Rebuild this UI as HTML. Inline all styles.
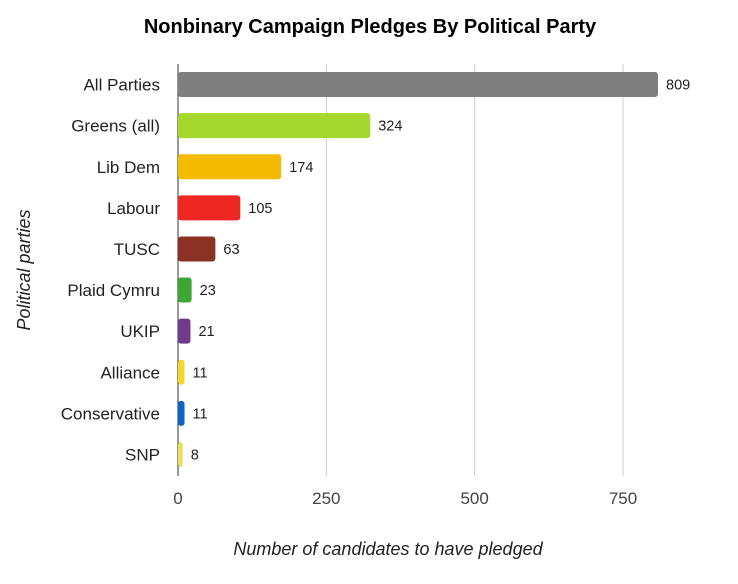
<!DOCTYPE html>
<html><head><meta charset="utf-8">
<style>
body{margin:0;background:#fff;font-family:"Liberation Sans",Arial,sans-serif;}
svg text{font-family:"Liberation Sans",Arial,sans-serif;}
</style></head>
<body>
<svg width="738" height="579" viewBox="0 0 738 579">
<text x="370" y="33" text-anchor="middle" font-size="20" font-weight="bold" fill="#000">Nonbinary Campaign Pledges By Political Party</text>
<g id="grid"></g>
<g id="bars"></g>
<g id="labels"></g>
<text x="388" y="555" text-anchor="middle" font-size="18" font-style="italic" fill="#222">Number of candidates to have pledged</text>
<text transform="translate(30,270) rotate(-90)" text-anchor="middle" font-size="18" font-style="italic" fill="#222">Political parties</text>
</svg>
<script>
const categories=["All Parties","Greens (all)","Lib Dem","Labour","TUSC","Plaid Cymru","UKIP","Alliance","Conservative","SNP"];
const values=[809,324,174,105,63,23,21,11,11,8];
const colors=["#7f7f7f","#a4d82c","#f4bb00","#ee2722","#8b3224","#3fa535","#6f3b8a","#f4d72a","#0c63c8","#ece05a"];
const ticks=[0,250,500,750];
const NS="http://www.w3.org/2000/svg";
const x0=178;
function xPos(v){return x0+v*(623-178)/750;}
const plotTop=64,rowH=41.1;
function yPos(i){return plotTop+rowH*(i+0.5);}
function mk(tag,attrs,parent){const e=document.createElementNS(NS,tag);for(const k in attrs)e.setAttribute(k,attrs[k]);document.getElementById(parent).appendChild(e);return e;}
ticks.forEach(t=>{
  if(t>0){const l=mk('line',{x1:xPos(t),x2:xPos(t),y1:plotTop,y2:476,stroke:'#cccccc','stroke-width':1},'grid');
  
  }
  const tx=mk('text',{x:xPos(t),y:504,'text-anchor':'middle','font-size':17,fill:'#444'},'grid');
  tx.textContent=t;
  
  
});
const ax=mk('line',{x1:x0,x2:x0,y1:plotTop,y2:476,stroke:'#333','stroke-width':1},'grid');


categories.forEach((c,i)=>{
  const y=yPos(i),w=xPos(values[i])-x0;
  const r=mk('rect',{x:x0,y:y-12.5,width:w,height:25,rx:3,fill:colors[i]},'bars');
  
  
  const v=mk('text',{x:x0+w+8,y:y+5,'font-size':14.5,fill:'#222'},'labels');
  v.textContent=values[i];
  
  
  const lb=mk('text',{x:160,y:y+6,'text-anchor':'end','font-size':17,fill:'#222'},'labels');
  lb.textContent=c;
  
  
});
</script>
</body></html>
